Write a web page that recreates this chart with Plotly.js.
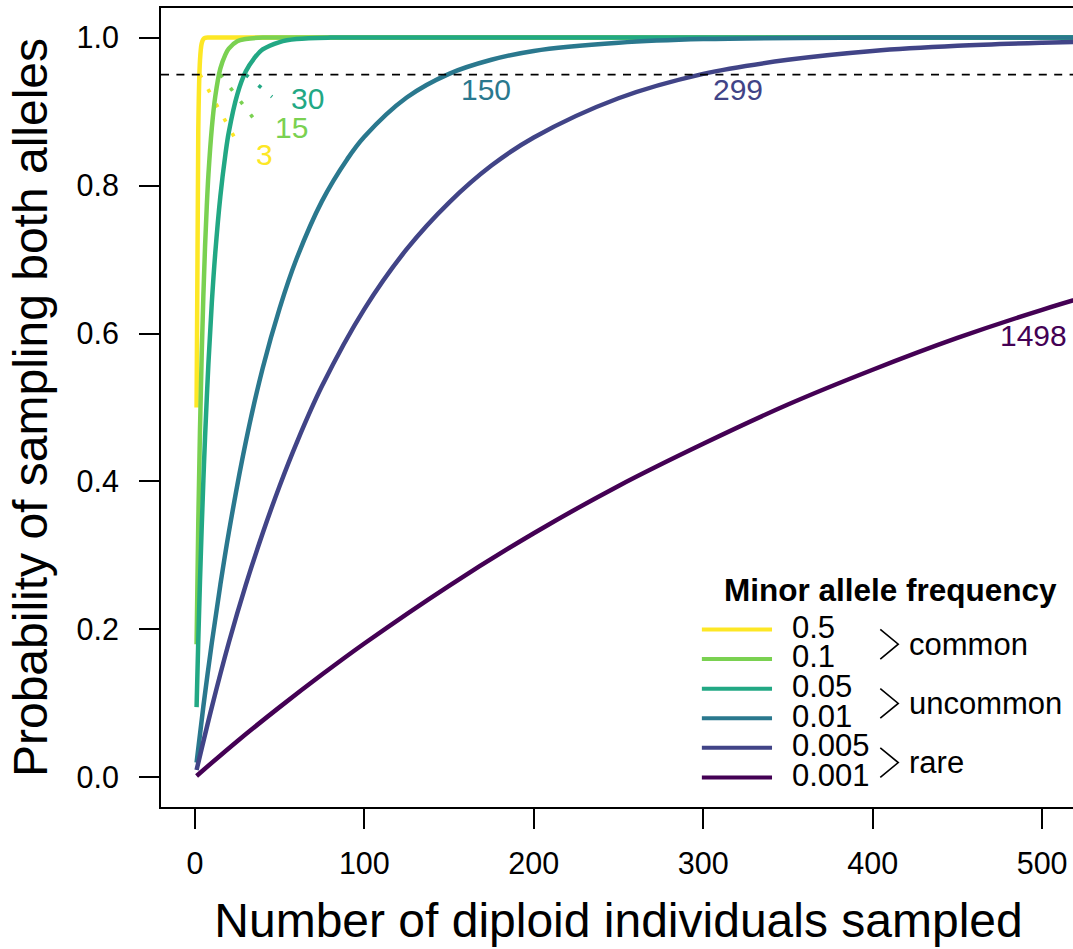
<!DOCTYPE html>
<html>
<head>
<meta charset="utf-8">
<script src="https://cdn.plot.ly/plotly-3.0.1.min.js"></script>
<style>
html,body{margin:0;padding:0;overflow:hidden;background:#fff;}
#chart{width:1080px;height:949px;}
</style>
</head>
<body>
<div id="chart"></div>
<script>
// ---- data ----
const freqLabels = ["0.5", "0.1", "0.05", "0.01", "0.005", "0.001"];
const groupLabels = ["common", "uncommon", "rare"];
const n95 = [3, 15, 30, 150, 299, 1498];   // sample size reaching 0.95

const n_f05 = [1, 2, 3, 4, 5, 6, 8, 10, 20, 600];
const p_f05 = [0.500, 0.875, 0.969, 0.992, 0.998, 0.9995, 1.0, 1.0, 1.0, 1.0];

const n_f01 = [1, 2, 3, 4, 5, 6, 7, 8, 10, 12, 15, 18, 20, 25, 30, 40, 60, 600];
const p_f01 = [0.180, 0.344, 0.469, 0.570, 0.651, 0.718, 0.771, 0.815, 0.878, 0.920, 0.958, 0.977, 0.985, 0.995, 0.998, 1.0, 1.0, 1.0];

const n_f005 = [1, 2, 3, 4, 5, 6, 8, 10, 12, 15, 18, 20, 25, 30, 35, 40, 50, 60, 80, 100, 600];
const p_f005 = [0.095, 0.185, 0.265, 0.337, 0.401, 0.460, 0.560, 0.642, 0.708, 0.785, 0.842, 0.872, 0.923, 0.954, 0.972, 0.984, 0.994, 0.998, 1.0, 1.0, 1.0];

const n_f001 = [1, 5, 10, 15, 20, 30, 40, 50, 60, 75, 90, 100, 125, 150, 175, 200, 250, 300, 400, 500, 600];
const p_f001 = [0.020, 0.096, 0.182, 0.260, 0.331, 0.453, 0.553, 0.634, 0.701, 0.779, 0.836, 0.866, 0.919, 0.951, 0.970, 0.982, 0.993, 0.998, 1.0, 1.0, 1.0];

const n_f0005 = [1, 10, 20, 30, 40, 50, 60, 75, 100, 125, 150, 175, 200, 250, 300, 350, 400, 450, 500, 600];
const p_f0005 = [0.010, 0.095, 0.182, 0.260, 0.330, 0.394, 0.452, 0.529, 0.633, 0.714, 0.777, 0.827, 0.865, 0.918, 0.951, 0.970, 0.982, 0.989, 0.993, 0.998];

const n_f0001 = [1, 25, 50, 75, 100, 150, 200, 250, 300, 350, 400, 450, 500, 600];
const p_f0001 = [0.002, 0.049, 0.095, 0.139, 0.181, 0.259, 0.330, 0.394, 0.451, 0.504, 0.551, 0.594, 0.632, 0.699];

const xTicks = [0, 100, 200, 300, 400, 500];
const yTicks = [0, 0.2, 0.4, 0.6, 0.8, 1.0];
const yTickText = ["0.0", "0.2", "0.4", "0.6", "0.8", "1.0"];

// ---- styling ----
const colors = ["#FDE725", "#7AD151", "#22A884", "#2A788E", "#414487", "#440154"];
const seriesX = [n_f05, n_f01, n_f005, n_f001, n_f0005, n_f0001];
const seriesY = [p_f05, p_f01, p_f005, p_f001, p_f0005, p_f0001];
const FONT = "Liberation Sans, Arial, Helvetica, sans-serif";

const traces = [];

// dotted leader lines for the three steep curves
const leaderEnds = [[26.5, 0.852], [38.8, 0.878], [45.5, 0.920]];
for (let i = 0; i < 3; i++) {
  traces.push({
    x: [n95[i], leaderEnds[i][0]], y: [0.95, leaderEnds[i][1]],
    mode: "lines", line: {color: colors[i], width: 3.6, dash: "3.6px,13.1px"},
    hoverinfo: "skip", showlegend: false
  });
}

for (let i = 0; i < seriesX.length; i++) {
  traces.push({
    x: seriesX[i], y: seriesY[i], name: freqLabels[i],
    mode: "lines", line: {color: colors[i], width: 4.5, shape: "spline", smoothing: 1},
    showlegend: false
  });
}

// curve labels
const labelPos = [[41.3, 0.842], [57.0, 0.879], [66.7, 0.918], [171.8, 0.930], [320.7, 0.930], [494.9, 0.597]];
const annotations = [];
for (let i = 0; i < n95.length; i++) {
  annotations.push({
    x: labelPos[i][0], y: labelPos[i][1], xref: "x", yref: "y",
    text: String(n95[i]), showarrow: false, xanchor: "center", yanchor: "middle",
    font: {family: FONT, size: 30, color: colors[i]}
  });
}

// custom legend
const shapes = [{
  type: "line", xref: "paper", x0: 0, x1: 1, yref: "y", y0: 0.95, y1: 0.95,
  line: {color: "black", width: 1.8, dash: "8px,7.4px"}
}];
const rowY = [0.20, 0.16, 0.12, 0.08, 0.04, 0.0];
annotations.push({
  x: 410.4, y: 0.2532, xref: "x", yref: "y", text: "<b>Minor allele frequency</b>",
  showarrow: false, xanchor: "center", yanchor: "middle",
  font: {family: FONT, size: 31.5, color: "black"}
});
for (let i = 0; i < freqLabels.length; i++) {
  shapes.push({
    type: "line", xref: "x", yref: "y", x0: 299.2, x1: 340.6, y0: rowY[i], y1: rowY[i],
    line: {color: colors[i], width: 4}
  });
  annotations.push({
    x: 351.0, y: rowY[i] + 0.003, xref: "x", yref: "y", text: freqLabels[i],
    showarrow: false, xanchor: "left", yanchor: "middle",
    font: {family: FONT, size: 31, color: "black"}
  });
}
for (let g = 0; g < groupLabels.length; g++) {
  const yTop = rowY[2 * g], yBot = rowY[2 * g + 1], yMid = (yTop + yBot) / 2;
  shapes.push({
    type: "path", xref: "x", yref: "y",
    path: `M 404.5,${yTop} L 415.1,${yMid} L 404.5,${yBot}`,
    line: {color: "black", width: 1.6}
  });
  annotations.push({
    x: 420.5, y: yMid, xref: "x", yref: "y", text: groupLabels[g],
    showarrow: false, xanchor: "left", yanchor: "middle",
    font: {family: FONT, size: 31, color: "black"}
  });
}

const axisCommon = {
  showgrid: false, zeroline: false, showline: true, mirror: true,
  linecolor: "black", linewidth: 2, ticks: "outside", ticklen: 20, tickwidth: 2,
  tickcolor: "black", tickfont: {family: FONT, size: 30.5, color: "black"}
};

const layout = {
  width: 1080, height: 949,
  margin: {l: 161, r: 4, t: 8, b: 142},
  paper_bgcolor: "white", plot_bgcolor: "white",
  showlegend: false,
  xaxis: Object.assign({}, axisCommon, {
    range: [-20, 520], tickvals: xTicks, ticktext: xTicks.map(String),
    ticklabelstandoff: 8,
    title: {text: "Number of diploid individuals sampled", font: {family: FONT, size: 48, color: "black"}, standoff: 25}
  }),
  yaxis: Object.assign({}, axisCommon, {
    range: [-0.04, 1.04], tickvals: yTicks, ticktext: yTickText,
    ticklabelstandoff: 14,
    title: {text: "Probability of sampling both alleles", font: {family: FONT, size: 48, color: "black"}, standoff: 14}
  }),
  shapes: shapes,
  annotations: annotations
};

Plotly.newPlot("chart", traces, layout, {displayModeBar: false, staticPlot: true});
</script>
</body>
</html>
